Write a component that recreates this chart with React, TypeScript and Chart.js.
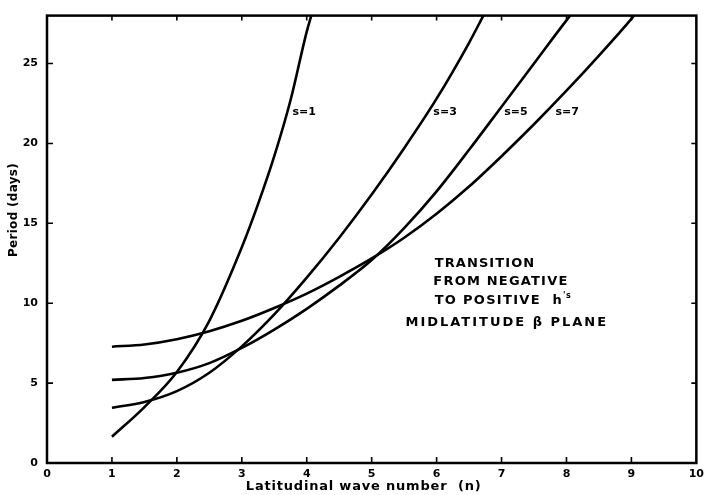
import { useEffect, useRef } from "react";
import { Chart, registerables } from "chart.js";
Chart.register(...registerables);

// Latitudinal wave number (n) and period (days) for each curve
const waveS1 = [1, 1.5, 2, 2.5, 3, 3.25, 3.5, 3.75, 4, 4.07];
const periodS1 = [1.64, 3.5, 5.7, 8.9, 13.5, 16.2, 19.2, 22.7, 27.0, 28];

const waveS3 = [1, 1.5, 2, 2.5, 3, 3.5, 4, 4.5, 5, 5.5, 6, 6.5, 6.72];
const periodS3 = [3.46, 3.82, 4.5, 5.65, 7.3, 9.3, 11.6, 14.1, 16.8, 19.7, 22.8, 26.3, 28];

const waveS5 = [1, 1.5, 2, 2.5, 3, 3.5, 4, 4.5, 5, 5.5, 6, 6.5, 7, 7.5, 8, 8.1];
const periodS5 = [5.2, 5.32, 5.65, 6.25, 7.2, 8.35, 9.65, 11.1, 12.7, 14.7, 17.0, 19.6, 22.3, 25.0, 27.7, 28.2];

const waveS7 = [1, 1.5, 2, 2.5, 3, 3.5, 4, 4.5, 5, 5.5, 6, 6.5, 7, 7.5, 8, 8.5, 9, 9.1];
const periodS7 = [7.28, 7.42, 7.75, 8.25, 8.9, 9.7, 10.6, 11.65, 12.8, 14.1, 15.6, 17.3, 19.2, 21.2, 23.3, 25.5, 27.8, 28.3];

const xTickValues = [0, 1, 2, 3, 4, 5, 6, 7, 8, 9, 10];
const yTickValues = [0, 5, 10, 15, 20, 25];

const curveLabels = ["s=1", "s=3", "s=5", "s=7"];
const curveLabelN = [3.78, 5.95, 7.04, 7.83];
const curveLabelPeriod = 21.96;

const noteLines = ["TRANSITION", "FROM NEGATIVE", "TO POSITIVE h's", "MIDLATITUDE β PLANE"];
const noteLineN = [5.97, 5.95, 5.97, 5.52];
const notePeriod = [12.5, 11.33, 10.14, 8.77];
const noteSpacing = [1.1, 1.2, 1.3, 2.0];

const xTitle = "Latitudinal wave number  (n)";
const yTitle = "Period (days)";

const FONT = "'DejaVu Sans', 'Liberation Sans', sans-serif";

const toPoints = (xs: number[], ys: number[]) => xs.map((x, i) => ({ x, y: ys[i] }));

const framePlugin = {
  id: "frameAndNotes",
  afterDraw(chart: any) {
    const { ctx, chartArea } = chart;
    const xs = chart.scales.x;
    const ys = chart.scales.y;
    const { left, right, top, bottom } = chartArea;
    ctx.save();
    ctx.strokeStyle = "#000";
    ctx.fillStyle = "#000";
    ctx.lineWidth = 2.5;
    ctx.strokeRect(left, top, right - left, bottom - top);

    // inward tick marks on all four sides
    ctx.lineWidth = 1.6;
    xTickValues.forEach((v) => {
      if (v === 0 || v === 10) return;
      const px = xs.getPixelForValue(v);
      ctx.beginPath();
      ctx.moveTo(px, bottom);
      ctx.lineTo(px, bottom - 6);
      ctx.moveTo(px, top);
      ctx.lineTo(px, top + 5);
      ctx.stroke();
    });
    yTickValues.forEach((v) => {
      if (v === 0) return;
      const py = ys.getPixelForValue(v);
      ctx.beginPath();
      ctx.moveTo(left, py);
      ctx.lineTo(left + 6, py);
      ctx.moveTo(right, py);
      ctx.lineTo(right - 5, py);
      ctx.stroke();
    });

    // curve labels
    ctx.font = `bold 11px ${FONT}`;
    ctx.textBaseline = "middle";
    ctx.textAlign = "left";
    curveLabels.forEach((t, i) => {
      ctx.fillText(t, xs.getPixelForValue(curveLabelN[i]), ys.getPixelForValue(curveLabelPeriod));
    });

    // note block
    noteLines.forEach((t, i) => {
      const px = xs.getPixelForValue(noteLineN[i]);
      const py = ys.getPixelForValue(notePeriod[i]);
      (ctx as any).letterSpacing = `${noteSpacing[i]}px`;
      ctx.font = `bold 13px ${FONT}`;
      if (t.endsWith("h's")) {
        const base = t.slice(0, -3);
        ctx.fillText(base, px, py);
        const w = ctx.measureText(base + " ").width;
        ctx.fillText("h", px + w, py);
        const wh = ctx.measureText("h").width;
        ctx.font = `bold 8px ${FONT}`;
        (ctx as any).letterSpacing = "0.5px";
        ctx.fillText("'s", px + w + wh, py - 5);
      } else {
        ctx.fillText(t, px, py);
      }
    });
    (ctx as any).letterSpacing = "0.8px";

    // axis titles
    ctx.font = `bold 13px ${FONT}`;
    ctx.textAlign = "center";
    ctx.fillText(xTitle, (left + right) / 2 - 8, 487);
    (ctx as any).letterSpacing = "0.3px";
    ctx.font = `bold 12px ${FONT}`;
    ctx.translate(14, 210);
    ctx.rotate(-Math.PI / 2);
    ctx.fillText(yTitle, 0, 0);
    ctx.restore();
  },
};

export default function App() {
  const ref = useRef<HTMLCanvasElement>(null);
  useEffect(() => {
    if (!ref.current) return;
    const ds = (xs: number[], ys: number[], label: string) => ({
      label,
      data: toPoints(xs, ys),
      borderColor: "#000",
      borderWidth: 2.6,
      pointRadius: 0,
      fill: false,
      cubicInterpolationMode: "monotone" as const,
    });
    const chart = new Chart(ref.current, {
      type: "line",
      data: {
        datasets: [
          ds(waveS1, periodS1, "s=1"),
          ds(waveS3, periodS3, "s=3"),
          ds(waveS5, periodS5, "s=5"),
          ds(waveS7, periodS7, "s=7"),
        ],
      },
      options: {
        responsive: false,
        animation: false,
        layout: { padding: { top: 12, right: 9, left: 0, bottom: 0 } },
        plugins: { legend: { display: false }, tooltip: { enabled: false }, title: { display: false } },
        scales: {
          x: {
            type: "linear",
            min: 0,
            max: 10,
            afterFit: (s: any) => {
              s.height = 32;
            },
            afterBuildTicks: (s: any) => {
              s.ticks = xTickValues.map((v) => ({ value: v }));
            },
            grid: { display: false, drawTicks: false },
            border: { display: false },
            ticks: {
              padding: 5,
              color: "#000",
              autoSkip: false,
              maxRotation: 0,
              font: { family: FONT, weight: "bold", size: 11 },
            },
          },
          y: {
            type: "linear",
            min: 0,
            max: 28,
            afterFit: (s: any) => {
              s.width = 47;
            },
            afterBuildTicks: (s: any) => {
              s.ticks = yTickValues.map((v) => ({ value: v }));
            },
            grid: { display: false, drawTicks: false },
            border: { display: false },
            ticks: {
              padding: 9,
              color: "#000",
              font: { family: FONT, weight: "bold", size: 11 },
            },
          },
        },
      },
      plugins: [framePlugin],
    });
    return () => chart.destroy();
  }, []);
  return (
    <div style={{ position: "absolute", left: 0, top: 0, width: 709, height: 495, background: "#fff" }}>
      <canvas ref={ref} width={709} height={495} style={{ display: "block" }} />
    </div>
  );
}
